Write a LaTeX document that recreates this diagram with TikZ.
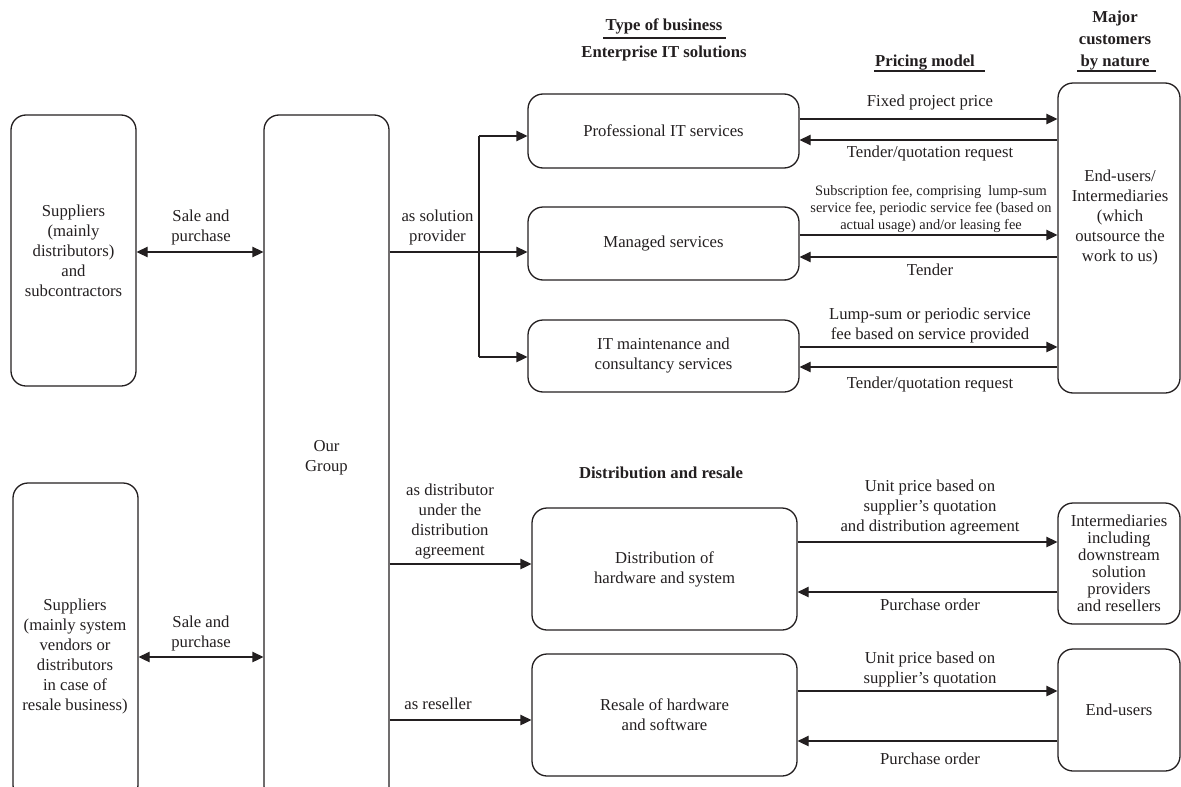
\documentclass[tikz,border=0pt]{standalone}
\usepackage{fontspec}
\setmainfont{Liberation Serif}
\usetikzlibrary{arrows.meta}
\definecolor{ink}{HTML}{231F20}
\newcommand{\mainf}{\fontsize{16.7}{20}\selectfont}
\newcommand{\smallf}{\fontsize{14.4}{17}\selectfont}
\tikzset{
  box/.style={draw=ink, text=ink, rounded corners=15pt, line width=1.3pt, inner sep=0pt, align=center, font=\mainf},
  lbl/.style={text=ink, inner sep=0pt, align=center, font=\mainf},
  slbl/.style={text=ink, inner sep=0pt, align=center, font=\smallf},
  hdr/.style={text=ink, inner sep=0pt, align=center, font=\fontsize{16.7}{22}\selectfont\bfseries},
  arr/.style={draw=ink, line width=1.3pt, -{Triangle[length=11pt,width=10.5pt]}},
  darr/.style={draw=ink, line width=1.3pt, {Triangle[length=11pt,width=10.5pt]}-{Triangle[length=11pt,width=10.5pt]}},
  conn/.style={draw=ink, line width=1.3pt},
  uline/.style={draw=ink, line width=2pt}
}
\begin{document}
\begin{tikzpicture}[x=1pt,y=-1pt]
\useasboundingbox (0,0) rectangle (1181,787);
\clip (0,0) rectangle (1181,787);

% headers
\node[hdr] (tob) at (664,26) {Type of business};
\node[hdr] (eit) at (664,53) {Enterprise IT solutions};
\node[hdr] (pm) at (925,63) {Pricing model};
\node[hdr] (mc) at (1115,41) {Major\\customers\\by nature};
\node[hdr] (dr) at (661,473) {Distribution and resale};
\draw[uline] (603,38) -- (726,38);
\draw[uline] (874,71) -- (985,71);
\draw[uline] (1077,71) -- (1156,71);

% left column
\node[box, minimum width=125pt, minimum height=271pt] (s1) at (73.5,250.5)
  {Suppliers\\(mainly\\distributors)\\and\\subcontractors};
\node[box, minimum width=125pt, minimum height=317pt] (s2) at (75.5,641.5) {};
\node[lbl] (s2t) at (75,656) {Suppliers\\(mainly system\\vendors or\\distributors\\in case of\\resale business)};
\node[box, minimum width=125pt, minimum height=686pt] (og) at (326.5,458) {Our\\Group};

% middle boxes
\node[box, minimum width=271pt, minimum height=74pt] (prof) at (663.5,131) {Professional IT services};
\node[box, minimum width=271pt, minimum height=73pt] (man) at (663.5,243.5) {Managed services};
\node[box, minimum width=271pt, minimum height=72pt] (itm) at (663.5,356) {IT maintenance and\\consultancy services};
\node[box, minimum width=265pt, minimum height=122pt] (dist) at (664.5,569) {Distribution of\\hardware and system};
\node[box, minimum width=265pt, minimum height=122pt] (res) at (664.5,715) {Resale of hardware\\and software};

% right boxes
\node[box, minimum width=122pt, minimum height=310pt] (cust) at (1119,238) {};
\node[lbl] (custt) at (1120,217) {End-users/\\Intermediaries\\(which\\outsource the\\work to us)};
\node[box, minimum width=122pt, minimum height=121pt, font=\fontsize{16.7}{17}\selectfont] (inter) at (1119,563.5)
  {Intermediaries\\including\\downstream\\solution\\providers\\and resellers};
\node[box, minimum width=122pt, minimum height=122pt] (eu) at (1119,710) {End-users};

% sale and purchase
\draw[darr] (s1.east |- 0,252) -- (og.west |- 0,252);
\node[lbl] (sp1) at (201,227) {Sale and\\purchase};
\draw[darr] (s2.east |- 0,657) -- (og.west |- 0,657);
\node[lbl] (sp2) at (201,633) {Sale and\\purchase};

% solution provider branch
\coordinate (br) at (479,252);
\coordinate (brt) at (479,136);
\coordinate (brb) at (479,357);
\draw[conn] (og.east |- br) -- (br);
\draw[conn] (brt) -- (brb);
\draw[arr] (brt) -- (brt -| prof.west);
\draw[arr] (br) -- (br -| man.west);
\draw[arr] (brb) -- (brb -| itm.west);
\node[lbl] (asp) at (437.5,227.5) {as solution\\provider};

% distribution / resale
\draw[arr] (og.east |- 0,564) -- (dist.west |- 0,564);
\node[lbl] (asd) at (450,522) {as distributor\\under the\\distribution\\agreement};
\draw[arr] (og.east |- 0,720) -- (res.west |- 0,720);
\node[lbl] (asr) at (438,704) {as reseller};

% pricing arrows
\draw[arr] (prof.east |- 0,119) -- (cust.west |- 0,119);
\draw[arr] (cust.west |- 0,140) -- (prof.east |- 0,140);
\node[lbl] (p1a) at (930,102) {Fixed project price};
\node[lbl] (p1b) at (930,153) {Tender/quotation request};

\draw[arr] (man.east |- 0,235) -- (cust.west |- 0,235);
\draw[arr] (cust.west |- 0,257) -- (man.east |- 0,257);
\node[slbl] (p2a) at (931,208.5) {Subscription fee, comprising\ \ lump-sum\\service fee, periodic service fee (based on\\actual usage) and/or leasing fee};
\node[lbl] (p2b) at (930,270) {Tender};

\draw[arr] (itm.east |- 0,347) -- (cust.west |- 0,347);
\draw[arr] (cust.west |- 0,367) -- (itm.east |- 0,367);
\node[lbl] (p3a) at (930,325) {Lump-sum or periodic service\\fee based on service provided};
\node[lbl] (p3b) at (930,384) {Tender/quotation request};

\draw[arr] (dist.east |- 0,542) -- (inter.west |- 0,542);
\draw[arr] (inter.west |- 0,592) -- (dist.east |- 0,592);
\node[lbl] (p4a) at (930,508) {Unit price based on\\supplier’s quotation\\and distribution agreement};
\node[lbl] (p4b) at (930,605) {Purchase order};

\draw[arr] (res.east |- 0,691) -- (eu.west |- 0,691);
\draw[arr] (eu.west |- 0,741) -- (res.east |- 0,741);
\node[lbl] (p5a) at (930,669) {Unit price based on\\supplier’s quotation};
\node[lbl] (p5b) at (930,759) {Purchase order};
\end{tikzpicture}
\end{document}
